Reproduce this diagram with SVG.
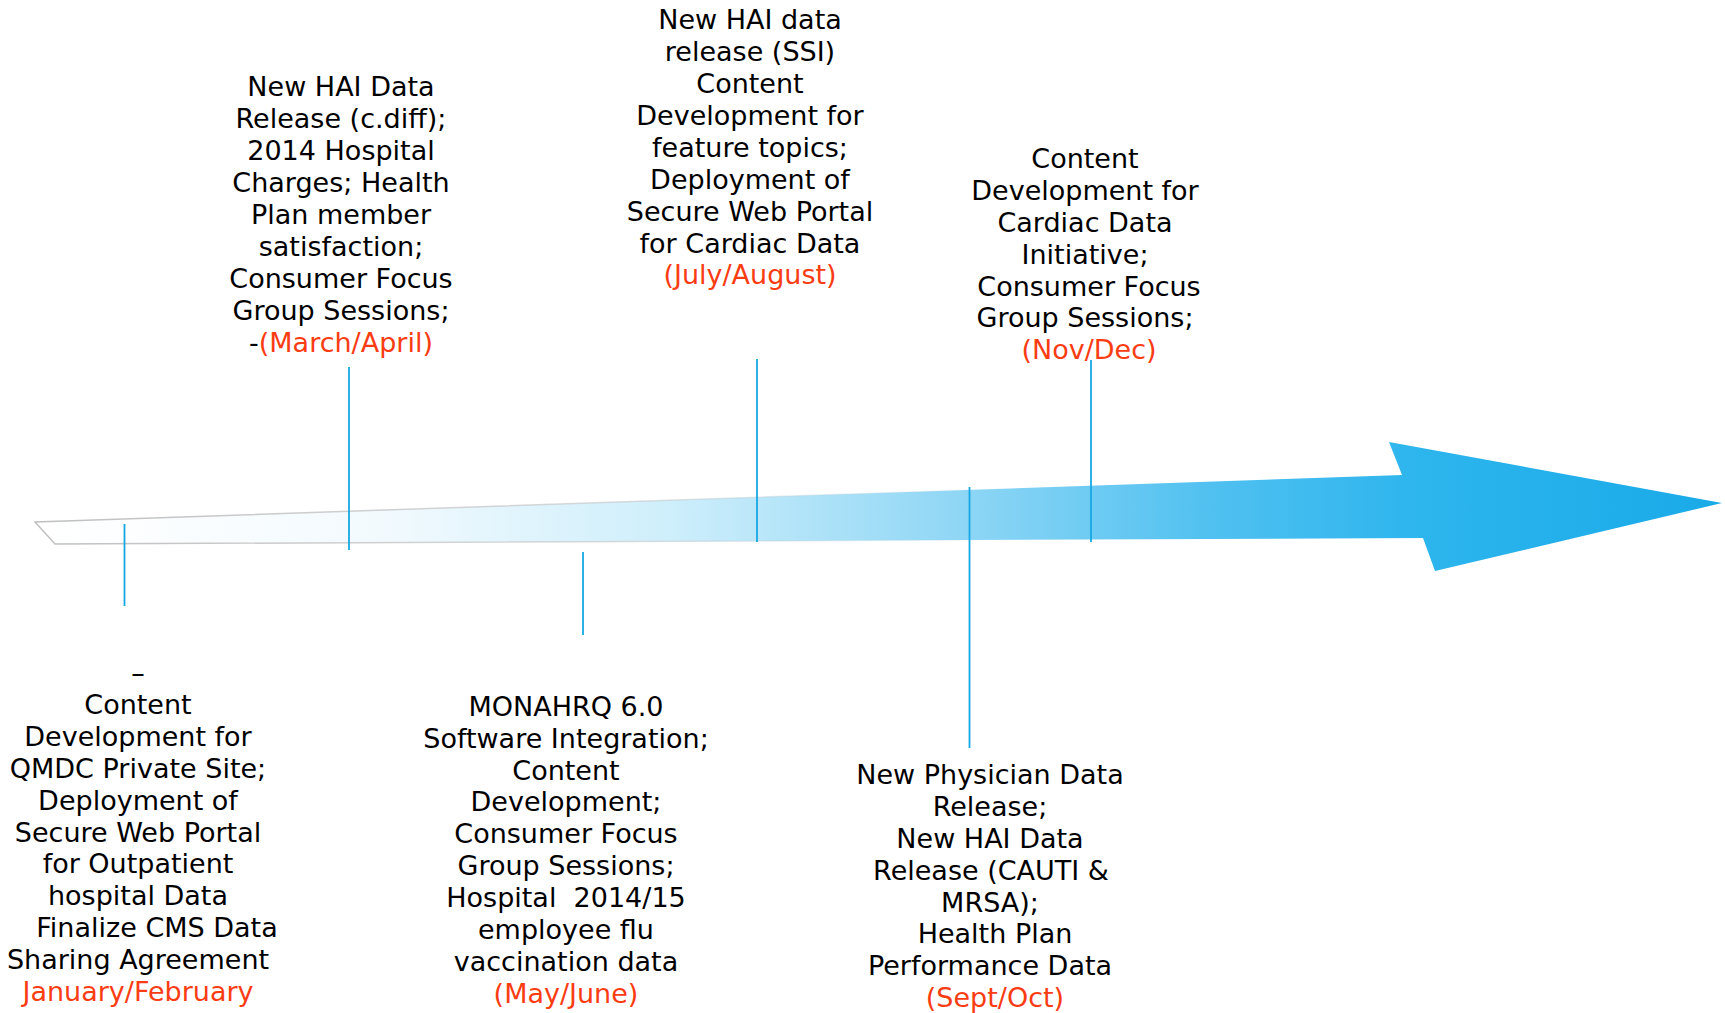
<svg xmlns="http://www.w3.org/2000/svg" width="1725" height="1013" viewBox="0 0 1725 1013">
<style>
.t{font-family:"DejaVu Sans","Verdana",sans-serif;font-size:27px;fill:#000;text-anchor:middle}
.r{fill:#fa3c12}
.c{stroke:#16a8e4;stroke-width:1.8;fill:none}
</style>
<defs>
<linearGradient id="shaft" x1="35" y1="0" x2="1722" y2="0" gradientUnits="userSpaceOnUse">
<stop offset="0" stop-color="#ffffff"/>
<stop offset="0.2" stop-color="#f3fafe"/>
<stop offset="0.38" stop-color="#cdeefb"/>
<stop offset="0.55" stop-color="#8ed6f5"/>
<stop offset="0.7" stop-color="#4fc0f0"/>
<stop offset="0.82" stop-color="#2db5ed"/>
<stop offset="1" stop-color="#19aae8"/>
</linearGradient>
<linearGradient id="edge" x1="35" y1="0" x2="1722" y2="0" gradientUnits="userSpaceOnUse">
<stop offset="0" stop-color="#b8b8b8" stop-opacity="0.9"/>
<stop offset="0.35" stop-color="#c4c4c4" stop-opacity="0.6"/>
<stop offset="0.6" stop-color="#9fd6ee" stop-opacity="0"/>
</linearGradient>
</defs>
<g id="arrow">
<path d="M35,522 L1402,475 L1389,442 L1722,503 L1435,571 L1423,538 L55,544 Z" fill="url(#shaft)" stroke="url(#edge)" stroke-width="1.5"/>
</g>
<g id="connectors">
<line class="c" x1="124.5" y1="524" x2="124.5" y2="606"/>
<line class="c" x1="349" y1="367" x2="349" y2="550"/>
<line class="c" x1="583" y1="552" x2="583" y2="635"/>
<line class="c" x1="757" y1="359" x2="757" y2="542"/>
<line class="c" x1="969.5" y1="487" x2="969.5" y2="748"/>
<line class="c" x1="1091" y1="360" x2="1091" y2="542"/>
</g>
<g id="node-jan-feb">
<text class="t" y="682"><tspan x="138">–</tspan><tspan x="138" dy="31.9">Content</tspan><tspan x="138" dy="31.9">Development for</tspan><tspan x="138" dy="31.9">QMDC Private Site;</tspan><tspan x="138" dy="31.9">Deployment of</tspan><tspan x="138" dy="31.9">Secure Web Portal</tspan><tspan x="138" dy="31.9">for Outpatient</tspan><tspan x="138" dy="31.9">hospital Data</tspan><tspan x="157" dy="31.9">Finalize CMS Data</tspan><tspan x="138" dy="31.9">Sharing Agreement</tspan><tspan x="138" dy="31.9" class="r">January/February</tspan></text>
</g>
<g id="node-mar-apr">
<text class="t" y="96.4"><tspan x="341">New HAI Data</tspan><tspan x="341" dy="31.9">Release (c.diff);</tspan><tspan x="341" dy="31.9">2014 Hospital</tspan><tspan x="341" dy="31.9">Charges; Health</tspan><tspan x="341" dy="31.9">Plan member</tspan><tspan x="341" dy="31.9">satisfaction;</tspan><tspan x="341" dy="31.9">Consumer Focus</tspan><tspan x="341" dy="31.9">Group Sessions;</tspan><tspan x="341" dy="31.9">-<tspan class="r">(March/April)</tspan></tspan></text>
</g>
<g id="node-may-jun">
<text class="t" y="715.7" xml:space="preserve"><tspan x="566">MONAHRQ 6.0</tspan><tspan x="566" dy="31.9">Software Integration;</tspan><tspan x="566" dy="31.9">Content</tspan><tspan x="566" dy="31.9">Development;</tspan><tspan x="566" dy="31.9">Consumer Focus</tspan><tspan x="566" dy="31.9">Group Sessions;</tspan><tspan x="566" dy="31.9">Hospital  2014/15</tspan><tspan x="566" dy="31.9">employee flu</tspan><tspan x="566" dy="31.9">vaccination data</tspan><tspan x="566" dy="31.9" class="r">(May/June)</tspan></text>
</g>
<g id="node-jul-aug">
<text class="t" y="29.3"><tspan x="750">New HAI data</tspan><tspan x="750" dy="31.9">release (SSI)</tspan><tspan x="750" dy="31.9">Content</tspan><tspan x="750" dy="31.9">Development for</tspan><tspan x="750" dy="31.9">feature topics;</tspan><tspan x="750" dy="31.9">Deployment of</tspan><tspan x="750" dy="31.9">Secure Web Portal</tspan><tspan x="750" dy="31.9">for Cardiac Data</tspan><tspan x="750" dy="31.9" class="r">(July/August)</tspan></text>
</g>
<g id="node-sep-oct">
<text class="t" y="783.9"><tspan x="990">New Physician Data</tspan><tspan x="990" dy="31.9">Release;</tspan><tspan x="990" dy="31.9">New HAI Data</tspan><tspan x="991" dy="31.9">Release (CAUTI &amp;</tspan><tspan x="990" dy="31.9">MRSA);</tspan><tspan x="995" dy="31.9">Health Plan</tspan><tspan x="990" dy="31.9">Performance Data</tspan><tspan x="995" dy="31.9" class="r">(Sept/Oct)</tspan></text>
</g>
<g id="node-nov-dec">
<text class="t" y="167.9"><tspan x="1085">Content</tspan><tspan x="1085" dy="31.9">Development for</tspan><tspan x="1085" dy="31.9">Cardiac Data</tspan><tspan x="1085" dy="31.9">Initiative;</tspan><tspan x="1089" dy="31.9">Consumer Focus</tspan><tspan x="1085" dy="31.9">Group Sessions;</tspan><tspan x="1089" dy="31.9" class="r">(Nov/Dec)</tspan></text>
</g>
</svg>
